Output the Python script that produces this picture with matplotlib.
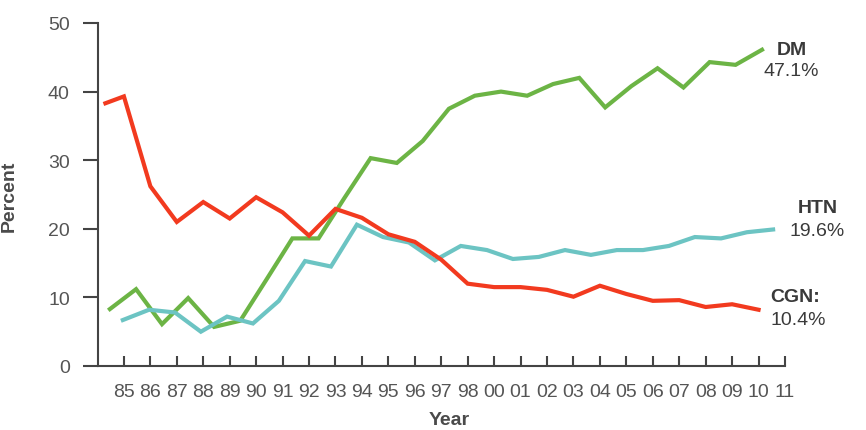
import matplotlib
matplotlib.use("Agg")
import matplotlib.pyplot as plt

# ---------------- data ----------------
year_labels = ["85", "86", "87", "88", "89", "90", "91", "92", "93", "94", "95", "96", "97",
               "98", "00", "01", "02", "03", "04", "05", "06", "07", "08", "09", "10", "11"]

# positions along the year axis (tick index units)
cgn_x = [-0.7, 0, 1, 2, 3, 4, 5, 6, 7, 8, 9, 10, 11, 12, 13, 14, 15, 16, 17, 18,
         19, 20, 21, 22, 23, 24]
cgn = [38.3, 39.3, 26.2, 21.0, 23.9, 21.5, 24.6, 22.4, 19.0, 22.9, 21.6, 19.2, 18.1,
       15.5, 12.0, 11.5, 11.5, 11.1, 10.1, 11.7, 10.5, 9.5, 9.6, 8.6, 9.0, 8.2]

dm_x = [-0.53, 0.46, 1.44, 2.43, 3.41, 4.40, 5.39, 6.37, 7.36, 8.34, 9.33, 10.32, 11.30,
        12.29, 13.27, 14.26, 15.25, 16.23, 17.22, 18.20, 19.19, 20.18, 21.16, 22.15,
        23.13, 24.13]
dm = [8.3, 11.2, 6.1, 9.9, 5.7, 6.6, 12.6, 18.6, 18.6, 24.5, 30.3, 29.6, 32.8, 37.5,
      39.4, 40.0, 39.4, 41.1, 42.0, 37.7, 40.8, 43.4, 40.6, 44.3, 43.9, 46.1]

htn_x = [-0.04, 0.95, 1.93, 2.91, 3.90, 4.88, 5.86, 6.85, 7.83, 8.81, 9.80, 10.78, 11.76,
         12.74, 13.73, 14.71, 15.69, 16.68, 17.66, 18.64, 19.63, 20.61, 21.59, 22.58,
         23.56, 24.55]
htn = [6.7, 8.2, 7.8, 5.0, 7.2, 6.2, 9.5, 15.3, 14.5, 20.6, 18.8, 18.0, 15.4, 17.5,
       16.9, 15.6, 15.9, 16.9, 16.2, 16.9, 16.9, 17.5, 18.8, 18.6, 19.5, 19.9]

series_names = ["DM", "HTN", "CGN:"]
series_pct = ["47.1%", "19.6%", "10.4%"]

y_ticks = [0, 10, 20, 30, 40, 50]

# ---------------- style ----------------
RED = "#f23a1f"
GREEN = "#6cb445"
CYAN = "#6cc4c3"
AXC = "#444444"
TXT = "#3a3a3a"
FONT = ["Liberation Sans", "DejaVu Sans"]
plt.rcParams["font.family"] = FONT

fig = plt.figure(figsize=(8.66, 4.31), dpi=100)
ax = fig.add_axes([98 / 866, 64 / 431, 687 / 866, 343 / 431])

lw = 3.0
ax.plot(dm_x, dm, color=GREEN, lw=lw, solid_joinstyle="miter", zorder=3)
ax.plot(htn_x, htn, color=CYAN, lw=lw, solid_joinstyle="miter", zorder=4)
ax.plot(cgn_x, cgn, color=RED, lw=lw, solid_joinstyle="miter", zorder=5)

ax.set_xlim(-0.98, 25.0)
ax.set_ylim(0, 50)

for s in ["top", "right"]:
    ax.spines[s].set_visible(False)
for s in ["left", "bottom"]:
    ax.spines[s].set_color(AXC)
    ax.spines[s].set_linewidth(1.5)

ax.set_yticks(y_ticks)
ax.set_yticklabels([str(v) for v in y_ticks])
ax.tick_params(axis="y", direction="out", length=10.8, width=1.5, color=AXC,
               pad=9.5, labelsize=14, labelcolor="#555555")

ax.set_xticks(range(len(year_labels)))
ax.set_xticklabels(year_labels)
ax.tick_params(axis="x", direction="in", length=7.2, width=1.5, color=AXC,
               pad=12, labelsize=14, labelcolor="#555555")

# axis titles
fig.text(9.5 / 866, 1 - 196 / 431, "Percent", rotation=90, ha="center", va="center",
         fontsize=14, fontweight="bold", color="#4a4a4a")
fig.text(449 / 866, 1.5 / 431, "Year", ha="center", va="bottom",
         fontsize=14, fontweight="bold", color="#4a4a4a")

# end labels
label_pos = [((25.26, 46.2), (25.22, 43.1)),
             ((26.25, 23.1), (26.21, 19.75)),
             ((25.38, 10.2), (25.51, 6.85))]
for name, pct, (p1, p2) in zip(series_names, series_pct, label_pos):
    ax.text(p1[0], p1[1], name, ha="center", va="center", fontsize=14,
            fontweight="bold", color=TXT, clip_on=False)
    ax.text(p2[0], p2[1], pct, ha="center", va="center", fontsize=14,
            color=TXT, clip_on=False)

fig.savefig("out.png", dpi=100)
